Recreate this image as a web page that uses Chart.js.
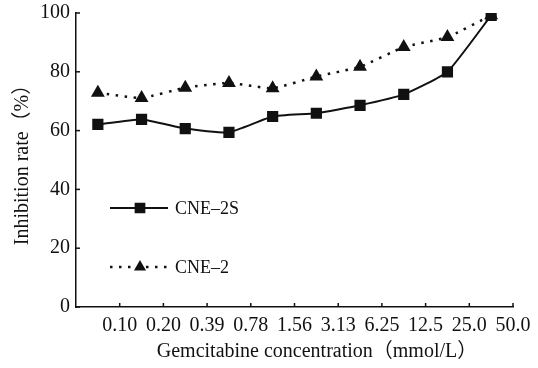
<!DOCTYPE html>
<html>
<head>
<meta charset="utf-8">
<script src="https://cdn.jsdelivr.net/npm/chart.js@4.4.1/dist/chart.umd.min.js"></script>
<style>
  html, body { margin: 0; padding: 0; background: #fff; }
  #wrap { width: 538px; height: 368px; }
</style>
</head>
<body>
<div id="wrap"><canvas id="chart" width="538" height="368"></canvas></div>
<script>
// concentrations (mmol/L), one per interval on the x axis
const concLabels = ['0.10', '0.20', '0.39', '0.78', '1.56', '3.13', '6.25', '12.5', '25.0', '50.0'];
// inhibition rate (%)
const cne2sValues = [62.1, 63.8, 60.7, 59.4, 64.8, 65.9, 68.6, 72.3, 80.0, 99.2];
const cne2Values = [72.9, 71.1, 74.6, 76.2, 74.4, 78.4, 81.7, 88.4, 91.8, 99.2];
const seriesNames = ['CNE–2S', 'CNE–2'];
const yTickValues = [0, 20, 40, 60, 80, 100];
const xTitle = 'Gemcitabine concentration（mmol/L）';
const yTitle = 'Inhibition rate（%）';

const serif = '"Liberation Serif", "Times New Roman", "Noto Sans CJK SC", serif';
const ink = '#111';

Chart.defaults.font.family = serif;
Chart.defaults.color = ink;

// points sit in the middle of each interval, labels on the interval ends
const toPoints = vals => vals.map((v, i) => ({ x: i + 0.5, y: v }));

// inward tick marks, the legend inside the plot and the x title
const decor = {
    id: 'decor',
    afterDraw(chart) {
        const ctx = chart.ctx;
        const xs = chart.scales.x, ys = chart.scales.y;
        ctx.save();
        ctx.strokeStyle = ink;
        ctx.lineWidth = 1.5;
        xs.ticks.forEach(t => {
            const px = xs.getPixelForValue(t.value);
            ctx.beginPath();
            ctx.moveTo(px, ys.bottom);
            ctx.lineTo(px, ys.bottom - 4);
            ctx.stroke();
        });
        ys.ticks.forEach(t => {
            const py = ys.getPixelForValue(t.value);
            ctx.beginPath();
            ctx.moveTo(xs.left, py);
            ctx.lineTo(xs.left + 4, py);
            ctx.stroke();
        });

        // legend
        const rows = [208, 267];
        chart.data.datasets.forEach((ds, i) => {
            const ly = rows[i];
            ctx.save();
            ctx.strokeStyle = ds.borderColor;
            ctx.lineWidth = ds.borderWidth;
            ctx.setLineDash(ds.borderDash || []);
            ctx.beginPath();
            ctx.moveTo(110, ly);
            ctx.lineTo(168, ly);
            ctx.stroke();
            ctx.restore();
            ctx.fillStyle = ds.pointBackgroundColor;
            ctx.strokeStyle = ds.pointBorderColor;
            Chart.helpers.drawPoint(ctx, {
                pointStyle: ds.pointStyle, radius: ds.pointRadius, rotation: 0, borderWidth: 1
            }, 140, ly);
            ctx.fillStyle = ink;
            ctx.font = '18px ' + serif;
            ctx.textAlign = 'left';
            ctx.textBaseline = 'middle';
            ctx.fillText(ds.label, 175, ly + 1);
        });

        ctx.font = '20px ' + serif;
        ctx.textAlign = 'center';
        ctx.textBaseline = 'middle';
        ctx.fillStyle = ink;
        ctx.fillText(xTitle, 317, 352);
        ctx.restore();
    }
};

const ctx = document.getElementById('chart').getContext('2d');
const chart = new Chart(ctx, {
    type: 'line',
    data: {
        datasets: [{
            label: seriesNames[0],
            data: toPoints(cne2sValues),
            borderColor: ink,
            borderWidth: 2,
            pointStyle: 'rect',
            pointRadius: 6.5,
            pointBackgroundColor: ink,
            pointBorderColor: ink,
            tension: 0.15
        }, {
            label: seriesNames[1],
            data: toPoints(cne2Values),
            borderColor: ink,
            borderWidth: 2.5,
            borderDash: [2.5, 6.5],
            pointStyle: 'triangle',
            pointRadius: 5.5,
            pointBackgroundColor: ink,
            pointBorderColor: ink,
            tension: 0.15
        }]
    },
    options: {
        responsive: false,
        animation: false,
        layout: { padding: { top: 13, right: 25, left: 0, bottom: 0 } },
        plugins: {
            legend: { display: false },
            tooltip: { enabled: false }
        },
        scales: {
            x: {
                type: 'linear',
                min: 0,
                max: concLabels.length,
                afterBuildTicks: s => { s.ticks = concLabels.map((_, i) => ({ value: i + 1 })); },
                afterFit: s => { s.height = 61; s.paddingLeft = 0; s.paddingRight = 0; },
                grid: { display: false, drawTicks: false },
                border: { display: true, color: ink, width: 1.5 },
                ticks: {
                    padding: 7,
                    maxRotation: 0,
                    autoSkip: false,
                    font: { size: 20 },
                    callback: v => concLabels[v - 1]
                }
            },
            y: {
                min: 0,
                max: 100,
                afterBuildTicks: s => { s.ticks = yTickValues.map(v => ({ value: v })); },
                afterFit: s => { s.width = 76; s.paddingTop = 0; s.paddingBottom = 0; },
                grid: { display: false, drawTicks: false },
                border: { display: true, color: ink, width: 1.5 },
                ticks: { padding: 6, font: { size: 20 } },
                title: {
                    display: true,
                    text: yTitle,
                    font: { size: 20 },
                    padding: { top: 11, bottom: 0 }
                }
            }
        }
    },
    plugins: [decor]
});
</script>
</body>
</html>
